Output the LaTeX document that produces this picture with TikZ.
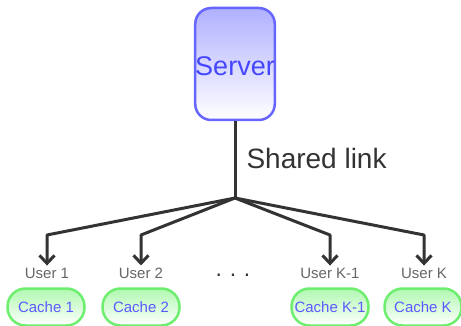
\documentclass[tikz,border=0pt]{standalone}
\usepackage{fontspec}
\setmainfont{Liberation Sans}
\usetikzlibrary{arrows.meta,positioning}

\definecolor{srvline}{RGB}{102,102,255}
\definecolor{srvtop}{RGB}{176,176,255}
\definecolor{srvtext}{RGB}{70,70,255}
\definecolor{cacheline}{RGB}{110,238,110}
\definecolor{cachetop}{RGB}{176,248,176}
\definecolor{cachetext}{RGB}{90,90,255}
\definecolor{linkcol}{RGB}{51,51,51}
\definecolor{usercol}{RGB}{102,102,102}

\tikzset{
  server/.style={draw=srvline, line width=2.5pt, rounded corners=16pt,
    top color=srvtop, bottom color=white, text=srvtext,
    minimum width=76pt, minimum height=112pt, inner sep=0pt,
    text height=24pt, font=\fontsize{27}{30}\selectfont},
  cache/.style={draw=cacheline, line width=2.5pt, rounded corners=18pt,
    top color=cachetop, bottom color=white, text=cachetext,
    minimum width=77pt, minimum height=37pt, inner sep=0pt,
    font=\fontsize{15}{17}\selectfont},
  user/.style={text=usercol, inner sep=2pt, font=\fontsize{15}{17}\selectfont},
  link/.style={draw=linkcol, line width=3pt, line join=round},
  arr/.style={link, -{Straight Barb[length=8pt,width=15pt,line width=3pt]}}
}

\begin{document}
\begin{tikzpicture}[x=1pt,y=-1pt]
\useasboundingbox (0,0) rectangle (461,326);

\node[server] (server) at (235,64) {Server};
\coordinate (split) at (235,198);
\node[text=linkcol, font=\fontsize{28}{32}\selectfont, anchor=west] (label) at (243,158) {Shared link};

% users
\node[user] (u_1) at (47,273) {User 1};
\node[user] (u_2) at (141,273) {User 2};
\node[text=linkcol, inner sep=0pt, font=\fontsize{23}{26}\selectfont] (u_dots) at (233,275) {.\,\,.\,\,.};
\node[user] (u_3) at (330,273) {User K-1};
\node[user] (u_4) at (424,273) {User K};

% caches
\node[cache] (c_1) at (46,307) {Cache 1};
\node[cache] (c_2) at (141,307) {Cache 2};
\node[cache] (c_3) at (330,307) {Cache K-1};
\node[cache] (c_4) at (423,307) {Cache K};

% bends
\coordinate (b_1) at (47,235);
\coordinate (b_2) at (141,235);
\coordinate (b_3) at (330,235);
\coordinate (b_4) at (424,235);

\draw[link] (server.south) -- (split);
\draw[arr] (split) -- (b_1) -- (u_1.north);
\draw[arr] (split) -- (b_2) -- (u_2.north);
\draw[arr] (split) -- (b_3) -- (u_3.north);
\draw[arr] (split) -- (b_4) -- (u_4.north);
\end{tikzpicture}
\end{document}
